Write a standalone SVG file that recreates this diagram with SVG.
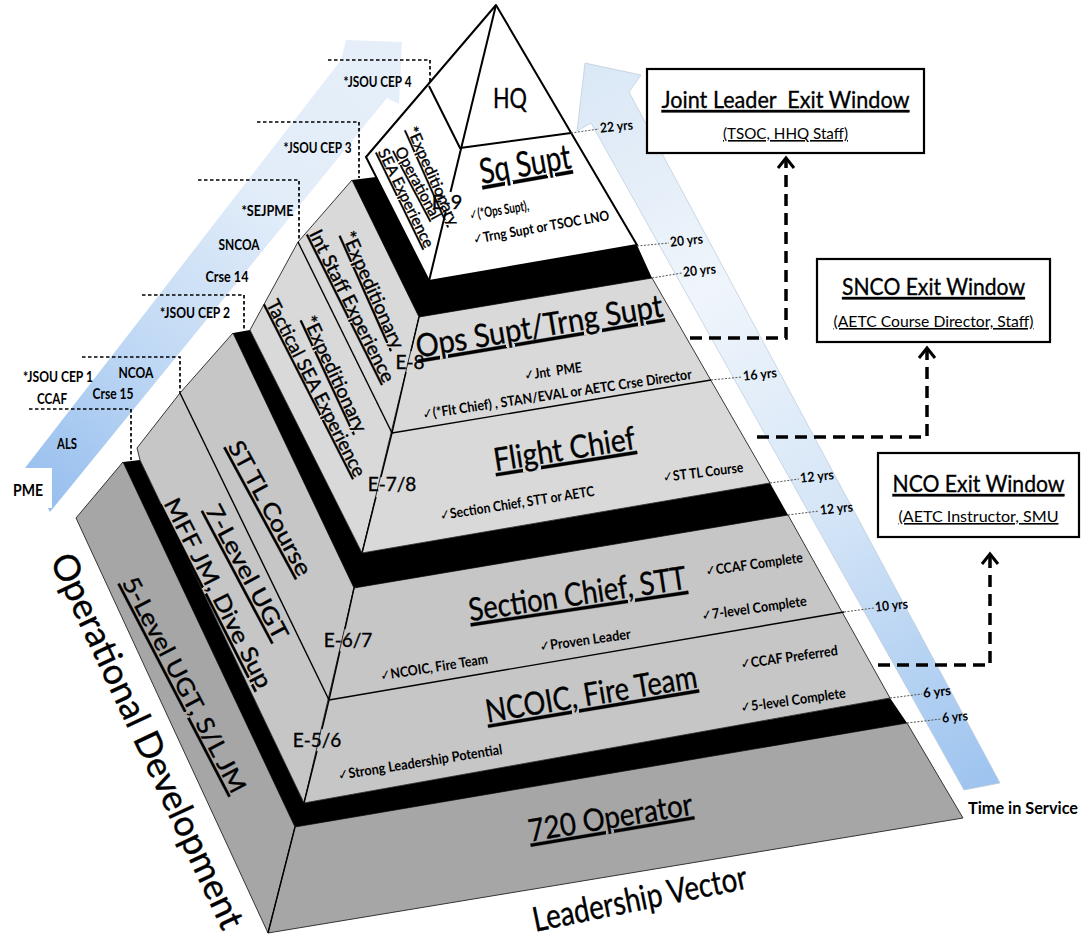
<svg xmlns="http://www.w3.org/2000/svg" width="1090" height="945" viewBox="0 0 1090 945">
<style>
.f{font-family:Lato,"Open Sans","DejaVu Sans",sans-serif;fill:#000}
.h{stroke:#000;stroke-width:0.35}
.b{font-weight:700}
.u{text-decoration:underline}
.out{stroke:#222;stroke-width:0.9;stroke-linejoin:round}
.ln{stroke:#000;stroke-width:1.4;fill:none}
.cap{stroke:#000;stroke-width:2;fill:none;stroke-linejoin:round}
.lead{stroke:#555;stroke-width:1;stroke-dasharray:2 1.5;fill:none}
.pmed{stroke:#000;stroke-width:1.7;stroke-dasharray:3.5 2.5;fill:none}
.conn{stroke:#000;stroke-width:3.5;stroke-dasharray:12 7;fill:none}
.box{fill:#fff;stroke:#000;stroke-width:2.2}
.t1{fill:#a6a6a6}
.t2{fill:#c6c6c6}
.t3{fill:#d9d9d9}
</style>
<defs>
<linearGradient id="gPME" gradientUnits="userSpaceOnUse" x1="40" y1="500" x2="400" y2="40">
<stop offset="0" stop-color="#97bfee"/>
<stop offset="0.35" stop-color="#c4dbf5"/>
<stop offset="0.65" stop-color="#e2edf9"/>
<stop offset="1" stop-color="#e6eff9"/>
</linearGradient>
<linearGradient id="gTIS" gradientUnits="userSpaceOnUse" x1="600" y1="70" x2="990" y2="790">
<stop offset="0" stop-color="#dbe8f6"/>
<stop offset="0.3" stop-color="#eff5fb"/>
<stop offset="0.6" stop-color="#d6e6f7"/>
<stop offset="1" stop-color="#9cc3ef"/>
</linearGradient>
<clipPath id="cOps"><polygon points="362,553 770,483 652,278 419,317"/></clipPath>
<marker id="ah" markerUnits="userSpaceOnUse" markerWidth="30" markerHeight="30" viewBox="-15 -15 30 30" refX="0" refY="0" orient="auto" overflow="visible">
<path d="M-10,-8 L0,0 L-10,8" fill="none" stroke="#000" stroke-width="3"/>
</marker>
</defs>
<rect width="1090" height="945" fill="#fff"/>

<g id="pme-arrow">
<polygon points="25,468 341,60 346,40 402,42 399,104 387,98 50,512 38,490" fill="url(#gPME)"/>
<g class="pmed">
<polyline points="328,60 430,60 430,85"/>
<polyline points="257,122 359,122 359,178"/>
<polyline points="198,180 299,180 299,242"/>
<polyline points="142,295 244,295 244,330"/>
<polyline points="82,357 180,357 180,393"/>
<polyline points="29,409 131,409 131,460"/>
</g>
<g class="f b" font-size="14.5" text-anchor="middle">
<text x="377.5" y="87" textLength="68" lengthAdjust="spacingAndGlyphs">*JSOU CEP 4</text>
<text x="317.5" y="153" textLength="68" lengthAdjust="spacingAndGlyphs">*JSOU CEP 3</text>
<text x="267.5" y="216" textLength="52" lengthAdjust="spacingAndGlyphs">*SEJPME</text>
<text x="239" y="250" textLength="41" lengthAdjust="spacingAndGlyphs">SNCOA</text>
<text x="227" y="282" textLength="43" lengthAdjust="spacingAndGlyphs">Crse 14</text>
<text x="195" y="318" textLength="70" lengthAdjust="spacingAndGlyphs">*JSOU CEP 2</text>
<text x="136" y="378" textLength="35" lengthAdjust="spacingAndGlyphs">NCOA</text>
<text x="58" y="382" textLength="70" lengthAdjust="spacingAndGlyphs">*JSOU CEP 1</text>
<text x="113" y="399" textLength="41" lengthAdjust="spacingAndGlyphs">Crse 15</text>
<text x="52" y="404" textLength="30" lengthAdjust="spacingAndGlyphs">CCAF</text>
<text x="67" y="449" textLength="20" lengthAdjust="spacingAndGlyphs">ALS</text>
</g>
<rect x="0" y="468" width="52" height="40" fill="#fff"/>
<text class="f b" font-size="17" x="28" y="496" text-anchor="middle" textLength="30" lengthAdjust="spacingAndGlyphs">PME</text>
</g>

<g id="time-arrow">
<polygon points="964,790 591,123 577,131 585,63 641,75 629,92 1000,783" fill="url(#gTIS)" stroke="#b9c9da" stroke-width="0.7"/>
<text class="f b" font-size="17" x="1023" y="814" text-anchor="middle" textLength="110" lengthAdjust="spacingAndGlyphs">Time in Service</text>
</g>

<g id="tier-720-operator">
<polygon class="t1 out" points="76,518 123,462 295,827 268,933"/>
<polygon class="t1 out" points="295,827 907,723 963,818 268,933"/>
<polygon fill="#000" points="123,462 140,460 304,803 890,698 907,723 295,827"/>
<line class="ln" x1="268" y1="933" x2="295" y2="827"/>
<text class="f h u" font-size="24" text-anchor="middle" transform="translate(184 685) rotate(62.5)" y="8" textLength="240" lengthAdjust="spacingAndGlyphs">5-Level UGT, S/L JM</text>
<text class="f h u" font-size="31" text-anchor="middle" transform="translate(612 828) rotate(-9.5)" textLength="166" lengthAdjust="spacingAndGlyphs">720 Operator</text>
</g>

<g id="tier-ncoic-section-chief">
<polygon class="t2 out" points="140,460 137,448 180,393 233,333 354,588 329,700 304,803"/>
<polygon class="t2 out" points="304,803 890,698 788,515 354,588"/>
<polygon fill="#000" points="233,333 250,330 362,553 770,483 788,515 354,588"/>
<line class="ln" x1="329" y1="700" x2="844" y2="612"/>
<line class="ln" x1="180" y1="393" x2="329" y2="700"/>
<polyline class="ln" points="304,803 317,751"/>
<polyline class="ln" points="322,729 329,700 340,651"/>
<polyline class="ln" points="345,629 354,588"/>
<text class="f h u" font-size="23" text-anchor="middle" transform="translate(218 593) rotate(63)" y="8" textLength="210" lengthAdjust="spacingAndGlyphs">MFF JM, Dive Sup</text>
<text class="f h u" font-size="23" text-anchor="middle" transform="translate(247 572) rotate(62)" y="8" textLength="150" lengthAdjust="spacingAndGlyphs">7-Level UGT</text>
<text class="f h u" font-size="23" text-anchor="middle" transform="translate(270 508) rotate(61.5)" y="8" textLength="150" lengthAdjust="spacingAndGlyphs">ST TL Course</text>
<text class="f h" font-size="19" x="317" y="747" text-anchor="middle">E-5/6</text>
<text class="f h" font-size="19" x="348" y="647" text-anchor="middle">E-6/7</text>
<text class="f h u" font-size="32" text-anchor="middle" transform="translate(579 605) rotate(-8.5)" textLength="220" lengthAdjust="spacingAndGlyphs">Section Chief, STT</text>
<text class="f h u" font-size="32" text-anchor="middle" transform="translate(593 705) rotate(-9.5)" textLength="214" lengthAdjust="spacingAndGlyphs">NCOIC, Fire Team</text>
<g class="f b" font-size="14" text-anchor="middle">
<text transform="translate(754 564) rotate(-8)" y="5" textLength="98" lengthAdjust="spacingAndGlyphs">✓CCAF Complete</text>
<text transform="translate(754 608) rotate(-8)" y="5" textLength="106" lengthAdjust="spacingAndGlyphs">✓7-level Complete</text>
<text transform="translate(585 640) rotate(-8)" y="5" textLength="92" lengthAdjust="spacingAndGlyphs">✓Proven Leader</text>
<text transform="translate(434 667) rotate(-9)" y="5" textLength="109" lengthAdjust="spacingAndGlyphs">✓NCOIC, Fire Team</text>
<text transform="translate(789 657) rotate(-8)" y="5" textLength="98" lengthAdjust="spacingAndGlyphs">✓CCAF Preferred</text>
<text transform="translate(793 700) rotate(-8)" y="5" textLength="106" lengthAdjust="spacingAndGlyphs">✓5-level Complete</text>
<text transform="translate(420 762) rotate(-9)" y="5" textLength="166" lengthAdjust="spacingAndGlyphs">✓Strong Leadership Potential</text>
</g>
</g>

<g id="tier-flight-chief-ops-supt">
<polygon class="t3 out" points="250,330 298,242 352,180 419,317 392,433 362,553"/>
<polygon class="t3 out" points="362,553 770,483 652,278 419,317"/>
<polygon fill="#000" points="352,180 376,177 429,281 637,245 652,278 419,317"/>
<line class="ln" x1="392" y1="433" x2="711" y2="380"/>
<line class="ln" x1="298" y1="242" x2="392" y2="433"/>
<polyline class="ln" points="362,553 376,497"/>
<polyline class="ln" points="381,477 392,433 406,372"/>
<polyline class="ln" points="411,351 419,317"/>
<text class="f h u" font-size="19" text-anchor="middle" transform="translate(316 388) rotate(63)" y="6.5" textLength="196" lengthAdjust="spacingAndGlyphs">Tactical SEA Experience</text>
<text class="f h u" font-size="19" text-anchor="middle" transform="translate(335 374) rotate(65)" y="6.5" textLength="126" lengthAdjust="spacingAndGlyphs">*Expeditionary</text>
<text class="f h u" font-size="19" text-anchor="middle" transform="translate(352 306) rotate(63.5)" y="6.5" textLength="168" lengthAdjust="spacingAndGlyphs">Int Staff Experience</text>
<text class="f h u" font-size="19" text-anchor="middle" transform="translate(373 290) rotate(66)" y="6.5" textLength="126" lengthAdjust="spacingAndGlyphs">*Expeditionary</text>
<text class="f h" font-size="19" x="392" y="491" text-anchor="middle">E-7/8</text>
<text class="f h" font-size="19" x="410" y="369" text-anchor="middle">E-8</text>
<text class="f h u" font-size="32" text-anchor="middle" transform="translate(566 460) rotate(-9)" textLength="143" lengthAdjust="spacingAndGlyphs">Flight Chief</text>
<g clip-path="url(#cOps)">
<text class="f h u" font-size="32" text-anchor="middle" transform="translate(541 337) rotate(-9.5)" textLength="250" lengthAdjust="spacingAndGlyphs">Ops Supt/Trng Supt</text>
</g>
<g class="f b" font-size="14" text-anchor="middle">
<text transform="translate(553 371) rotate(-8)" y="5" xml:space="preserve" textLength="58" lengthAdjust="spacingAndGlyphs">✓Jnt  PME</text>
<text transform="translate(557 394) rotate(-8.5)" y="5" textLength="272" lengthAdjust="spacingAndGlyphs">✓(*Flt Chief) , STAN/EVAL or AETC Crse Director</text>
<text transform="translate(703 472) rotate(-7)" y="5" textLength="81" lengthAdjust="spacingAndGlyphs">✓ST TL Course</text>
<text transform="translate(517 503) rotate(-9)" y="5" textLength="156" lengthAdjust="spacingAndGlyphs">✓Section Chief, STT or AETC</text>
</g>
</g>

<g id="cap-sq-supt-hq">
<polygon fill="#fff" points="496,5 366,157 429,281"/>
<polygon fill="#fff" points="496,5 637,245 429,281"/>
<polyline class="cap" points="429,281 366,157 496,5 637,245 429,281"/>
<polyline class="cap" points="496,5 450.5,192"/>
<polyline class="cap" points="445.7,212 429,281"/>
<polyline class="cap" points="429,86 460,148 571,133"/>
<text class="f h u" font-size="15.5" text-anchor="middle" transform="translate(433 176) rotate(66)" y="5.3" textLength="106" lengthAdjust="spacingAndGlyphs">*Expeditionary</text>
<text class="f h u" font-size="15.5" text-anchor="middle" transform="translate(418 183) rotate(62)" y="5.3" textLength="80" lengthAdjust="spacingAndGlyphs">Operational</text>
<text class="f h u" font-size="15.5" text-anchor="middle" transform="translate(406 198) rotate(64)" y="5.3" textLength="108" lengthAdjust="spacingAndGlyphs">SEA Experience</text>
<text class="f h" font-size="20" x="447" y="209" text-anchor="middle">E-9</text>
<text class="f h" font-size="26" x="510" y="108" text-anchor="middle" textLength="34" lengthAdjust="spacingAndGlyphs">HQ</text>
<text class="f h u" font-size="35" text-anchor="middle" transform="translate(527 176) rotate(-10)" textLength="92" lengthAdjust="spacingAndGlyphs">Sq Supt</text>
<g class="f b" font-size="14" text-anchor="middle">
<text transform="translate(499 210) rotate(-9)" y="5" textLength="60" lengthAdjust="spacingAndGlyphs">✓(*Ops Supt),</text>
<text transform="translate(541 227) rotate(-10)" y="5" textLength="138" lengthAdjust="spacingAndGlyphs">✓Trng Supt or TSOC LNO</text>
</g>
</g>

<g id="time-labels">
<g class="lead">
<line x1="571" y1="133" x2="599" y2="129"/>
<line x1="637" y1="246" x2="669" y2="243"/>
<line x1="652" y1="278" x2="682" y2="273"/>
<line x1="711" y1="380" x2="742" y2="377"/>
<line x1="770" y1="483" x2="799" y2="479"/>
<line x1="788" y1="515" x2="819" y2="511"/>
<line x1="844" y1="612" x2="874" y2="608"/>
<line x1="890" y1="698" x2="922" y2="694"/>
<line x1="907" y1="723" x2="941" y2="719"/>
</g>
<g class="f b" font-size="13.5">
<text transform="translate(600 128) rotate(-6)" y="4.8" textLength="33" lengthAdjust="spacingAndGlyphs">22 yrs</text>
<text transform="translate(670 242) rotate(-6)" y="4.8" textLength="33" lengthAdjust="spacingAndGlyphs">20 yrs</text>
<text transform="translate(683 272) rotate(-6)" y="4.8" textLength="33" lengthAdjust="spacingAndGlyphs">20 yrs</text>
<text transform="translate(743 376) rotate(-6)" y="4.8" textLength="34" lengthAdjust="spacingAndGlyphs">16 yrs</text>
<text transform="translate(800 478) rotate(-6)" y="4.8" textLength="34" lengthAdjust="spacingAndGlyphs">12 yrs</text>
<text transform="translate(820 510) rotate(-6)" y="4.8" textLength="33" lengthAdjust="spacingAndGlyphs">12 yrs</text>
<text transform="translate(875 607) rotate(-6)" y="4.8" textLength="33" lengthAdjust="spacingAndGlyphs">10 yrs</text>
<text transform="translate(923 693) rotate(-6)" y="4.8" textLength="28" lengthAdjust="spacingAndGlyphs">6 yrs</text>
<text transform="translate(942 718) rotate(-6)" y="4.8" textLength="26" lengthAdjust="spacingAndGlyphs">6 yrs</text>
</g>
</g>

<g id="axis-labels">
<text class="f h" font-size="36" text-anchor="middle" transform="translate(147 741) rotate(65)" y="12" textLength="410" lengthAdjust="spacingAndGlyphs">Operational Development</text>
<text class="f h" font-size="34" text-anchor="middle" transform="translate(642 910) rotate(-11.5)" textLength="218" lengthAdjust="spacingAndGlyphs">Leadership Vector</text>
</g>

<g id="box-joint-leader">
<rect class="box" x="647" y="69" width="277" height="84"/>
<text class="f h u" font-size="24" x="785.5" y="108" text-anchor="middle" xml:space="preserve" textLength="248" lengthAdjust="spacingAndGlyphs">Joint Leader  Exit Window</text>
<text class="f u" font-size="16" x="785.5" y="139" text-anchor="middle" textLength="125" lengthAdjust="spacingAndGlyphs">(TSOC, HHQ Staff)</text>
</g>
<g id="box-snco">
<rect class="box" x="817" y="259" width="233" height="83"/>
<text class="f h u" font-size="24" x="933.5" y="295" text-anchor="middle" textLength="183" lengthAdjust="spacingAndGlyphs">SNCO Exit Window</text>
<text class="f u" font-size="16" x="933.5" y="327" text-anchor="middle" textLength="200" lengthAdjust="spacingAndGlyphs">(AETC Course Director, Staff)</text>
</g>
<g id="box-nco">
<rect class="box" x="878" y="453" width="201" height="84"/>
<text class="f h u" font-size="24" x="978.5" y="492" text-anchor="middle" textLength="172" lengthAdjust="spacingAndGlyphs">NCO Exit Window</text>
<text class="f u" font-size="16" x="978.5" y="522" text-anchor="middle" textLength="160" lengthAdjust="spacingAndGlyphs">(AETC Instructor, SMU</text>
</g>

<g id="connectors">
<path class="conn" d="M690,338 H786 V158" marker-end="url(#ah)"/>
<path class="conn" d="M757,437 H927 V348" marker-end="url(#ah)"/>
<path class="conn" d="M878,665 H990 V554" marker-end="url(#ah)"/>
</g>
</svg>
